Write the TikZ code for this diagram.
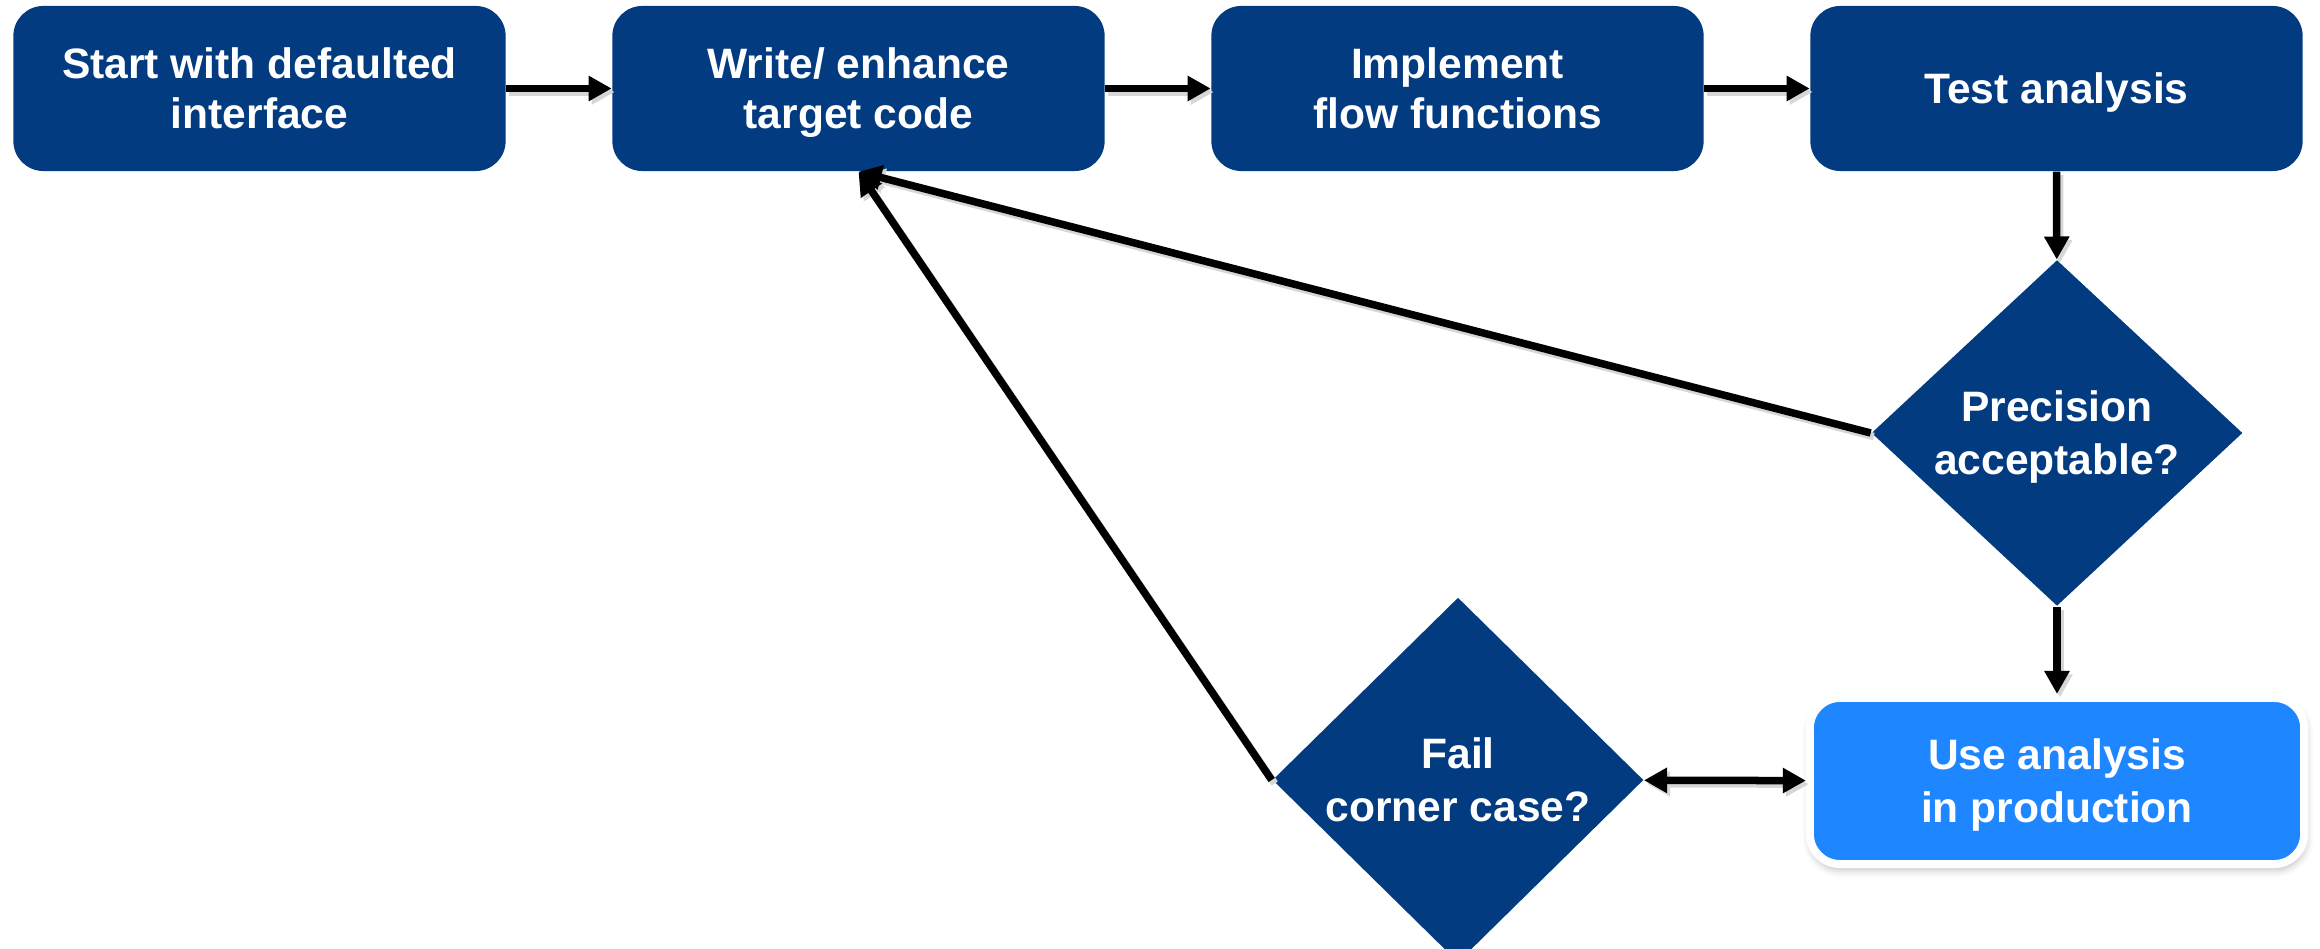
\documentclass[tikz,border=0pt]{standalone}
\usepackage{fontspec}
\setmainfont{Liberation Sans}
\usetikzlibrary{arrows.meta,shapes.geometric,shadows.blur}

\definecolor{navy}{RGB}{2,59,128}
\definecolor{skyblue}{RGB}{30,134,255}

% fixed line height so every label is centred the same way
\newcommand\linestrut{\rule[-0.09cm]{0pt}{0.476cm}}

\tikzset{
  labelfont/.style={font=\bfseries\fontsize{12.1pt}{14.23pt}\selectfont},
  widefont/.style={font=\bfseries\fontsize{12.1pt}{14.9pt}\selectfont},
  stepbox/.style={rectangle, rounded corners=0.3cm, fill=navy, text=white,
    minimum width=4.92cm, minimum height=1.65cm, inner sep=0pt,
    align=center, labelfont},
  decision/.style={diamond, aspect=1, fill=navy, text=white,
    minimum width=3.71cm, minimum height=3.42cm, inner sep=0pt,
    align=center, widefont},
  finalbox/.style={stepbox, widefont, fill=skyblue, draw=white, line width=0.08cm,
    minimum width=4.94cm, minimum height=1.66cm,
    blur shadow={shadow xshift=0.01cm, shadow yshift=-0.05cm,
      shadow blur radius=0.08cm, shadow opacity=30}},
  tip/.tip={Triangle[length=0.23cm,width=0.24cm]},
  flow/.style={line width=0.075cm, -tip},
  twoway/.style={line width=0.075cm, tip-tip},
  ghost/.style={draw=black!16, transform canvas={shift={(0.03cm,-0.035cm)}}},
}

\begin{document}
\begin{tikzpicture}[x=0.01cm, y=-0.01cm]
  \path[use as bounding box] (0,0) rectangle (2320,949);

  % top row of process steps
  \node[stepbox] (start) at (259.5,88.5) {\linestrut Start with defaulted\\\linestrut interface};
  \node[stepbox] (write) at (858.5,88.5) {\linestrut Write/ enhance\\\linestrut target code};
  \node[stepbox] (impl)  at (1457.5,88.5) {\linestrut Implement\\\linestrut flow functions};
  \node[stepbox] (test)  at (2056.5,88.5) {\linestrut Test analysis};

  % decisions and final step
  \node[decision] (prec) at (2057,433) {\linestrut Precision\\\linestrut acceptable?};
  \node[decision] (fail) at (1458,780) {\linestrut Fail\\\linestrut corner case?};
  \node[finalbox] (use)  at (2057,781) {\linestrut Use analysis\\\linestrut in production};

  % soft shadows under the connectors
  \draw[flow, ghost] (start) -- (write);
  \draw[flow, ghost] (write) -- (impl);
  \draw[flow, ghost] (impl) -- (test);
  \draw[flow, ghost] (test) -- (prec);
  \draw[flow, ghost] (prec) -- (use);
  \draw[twoway, ghost] (fail) -- (use);
  \draw[flow, ghost] (prec.west) -- (write.south);
  \draw[flow, ghost] (fail.west) -- (write.south);

  % connectors
  \draw[flow] (start) -- (write);
  \draw[flow] (write) -- (impl);
  \draw[flow] (impl) -- (test);
  \draw[flow] (test) -- (prec);
  \draw[flow] (prec) -- (use);
  \draw[twoway] (fail) -- (use);
  \draw[flow] (prec.west) -- (write.south);
  \draw[flow] (fail.west) -- (write.south);
\end{tikzpicture}
\end{document}
